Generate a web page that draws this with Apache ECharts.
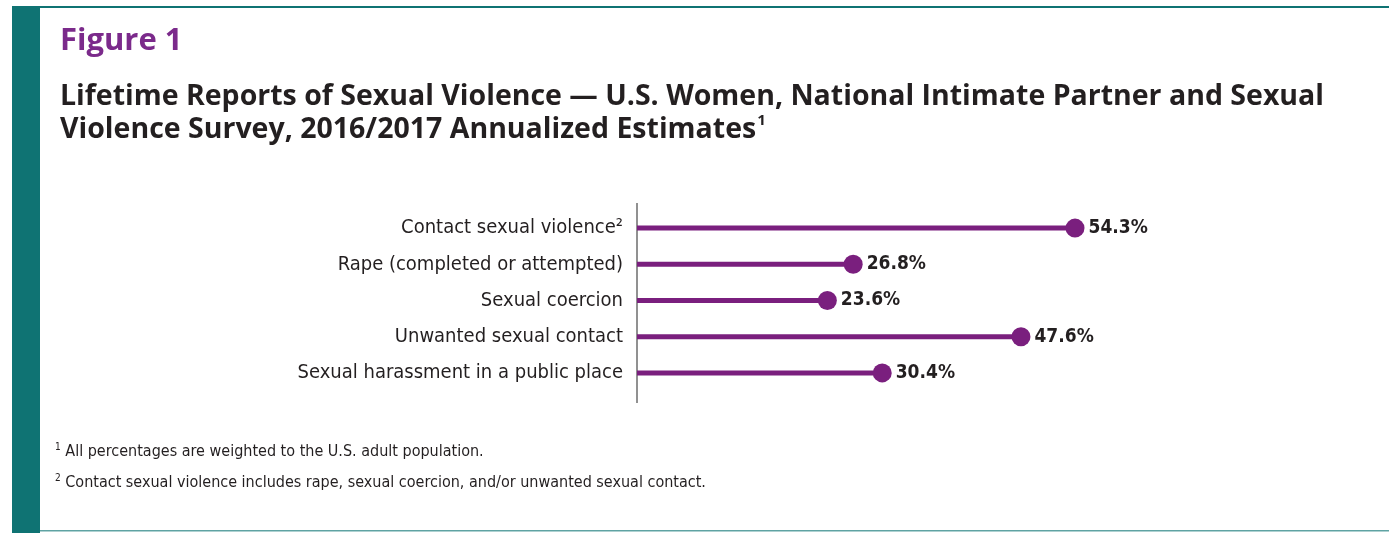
<!DOCTYPE html>
<html>
<head>
<meta charset="utf-8">
<script src="https://cdn.jsdelivr.net/npm/echarts@6/dist/echarts.min.js"></script>
<style>
  html, body { margin: 0; padding: 0; background: #fff; }
  #chart { width: 1389px; height: 533px; }
</style>
</head>
<body>
<div id="chart"></div>
<script>
// categories top to bottom
var categories = [
  'Contact sexual violence\u00b2',
  'Rape (completed or attempted)',
  'Sexual coercion',
  'Unwanted sexual contact',
  'Sexual harassment in a public place'
];
var percents = [54.3, 26.8, 23.6, 47.6, 30.4];

var footnotes = [
  'All percentages are weighted to the U.S. adult population.',
  'Contact sexual violence includes rape, sexual coercion, and/or unwanted sexual contact.'
];

var purple = '#7a1f7e';
var teal = '#0f7373';
var ink = '#231f20';
var narrow = '"Liberation Sans Narrow", "DejaVu Sans Condensed", sans-serif';
var heading = '"Open Sans", "Noto Sans", sans-serif';

var myChart = echarts.init(document.getElementById('chart'));
myChart.setOption({
  animation: false,
  backgroundColor: '#fff',
  grid: { left: 637, top: 210, width: 484, height: 181 },
  xAxis: {
    type: 'value', min: 0, max: 60, show: false
  },
  yAxis: {
    type: 'category',
    inverse: true,
    data: categories,
    axisLine: { show: false },
    axisTick: { show: false },
    axisLabel: { color: ink, fontSize: 20, fontFamily: narrow, margin: 14 }
  },
  series: [
    {
      type: 'bar',
      data: percents,
      barWidth: 5,
      itemStyle: { color: purple },
      silent: true
    },
    {
      type: 'scatter',
      data: percents.map(function (v, i) { return [v, categories[i]]; }),
      symbol: 'circle',
      symbolSize: 19,
      itemStyle: { color: purple, opacity: 1 },
      label: {
        show: true,
        position: 'right',
        distance: 4,
        formatter: function (p) { return p.value[0].toFixed(1) + '%'; },
        color: ink,
        fontSize: 19,
        fontWeight: 'bold',
        fontFamily: narrow
      },
      z: 3
    }
  ],
  graphic: [
    // frame
    { type: 'rect', shape: { x: 12, y: 6, width: 28, height: 527 }, style: { fill: teal } },
    { type: 'rect', shape: { x: 12, y: 6, width: 1377, height: 2 }, style: { fill: teal } },
    { type: 'rect', shape: { x: 40, y: 530, width: 1349, height: 1.5 }, style: { fill: '#5fa3a3' } },
    // axis line
    { type: 'line', shape: { x1: 637, y1: 203, x2: 637, y2: 403 }, style: { stroke: '#6d6d6d', lineWidth: 1.5 } },
    // headings
    {
      type: 'text', left: 60, top: 26,
      style: { text: 'Figure 1', fill: '#7b2a8b', font: 'bold 31px ' + heading }
    },
    {
      type: 'text', left: 60, top: 80,
      style: {
        text: 'Lifetime Reports of Sexual Violence \u2014 U.S. Women, National Intimate Partner and Sexual\nViolence Survey, 2016/2017 Annualized Estimates{s|1}',
        fill: ink, font: 'bold 28.5px ' + heading, lineHeight: 33,
        rich: { s: { fontSize: 15, fontWeight: 'bold', fontFamily: heading, verticalAlign: 'top', fill: ink, padding: [0, 0, 12, 1] } }
      }
    },
    // footnotes
    {
      type: 'text', left: 55, top: 436,
      style: {
        text: '{s|1} ' + footnotes[0] + '\n{s|2} ' + footnotes[1],
        fill: ink, font: '16px ' + narrow, lineHeight: 31,
        rich: { s: { fontSize: 10, fontFamily: narrow, fill: ink, padding: [0, 0, 8, 0] } }
      }
    }
  ]
});
</script>
</body>
</html>
